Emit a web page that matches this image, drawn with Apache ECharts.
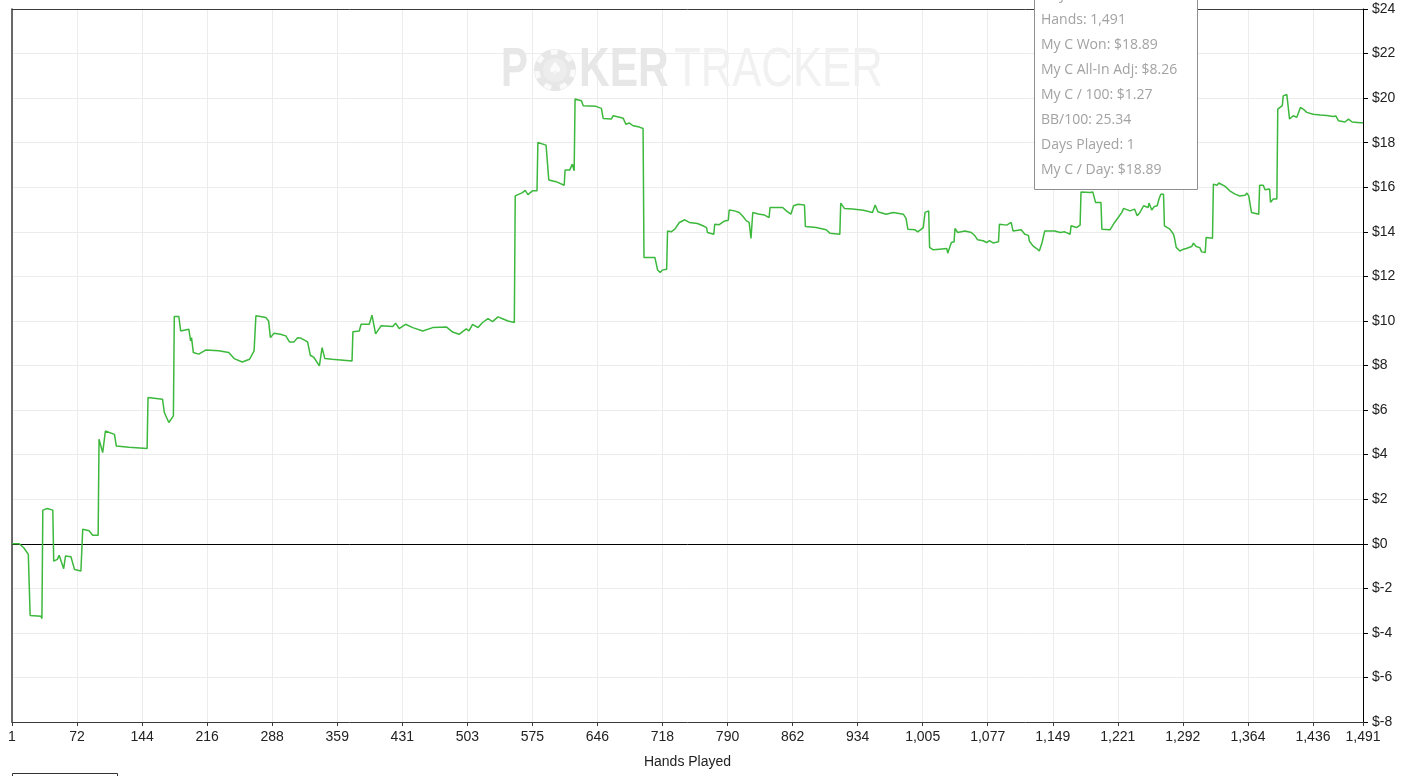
<!DOCTYPE html>
<html><head><meta charset="utf-8">
<script src="https://cdn.jsdelivr.net/npm/echarts@6/dist/echarts.min.js"></script>
<style>html,body{margin:0;padding:0;background:#fff}#c{width:1403px;height:776px}</style>
</head><body><div id="c"></div>
<script>
const hands = [
  1,9,14,19,20,21,33,34,35,40,
  46,47,51,53,58,60,66,70,77,78,
  79,86,90,96,97,101,104,114,116,130,
  150,151,167,169,174,179,180,185,187,196,
  198,199,201,207,215,229,240,246,255,263,
  268,269,270,281,284,286,290,297,303,307,
  312,316,320,327,330,334,340,342,343,346,
  354,376,377,384,386,395,398,399,402,408,
  421,424,428,435,443,454,465,480,487,494,
  502,505,509,515,520,526,531,537,542,548,
  555,556,564,567,570,575,580,581,590,592,
  593,601,610,611,616,619,621,622,629,631,
  645,651,653,662,664,671,675,678,682,686,
  693,697,698,710,713,716,718,723,724,728,
  732,737,743,748,757,763,767,768,775,776,
  781,787,791,792,798,803,807,811,814,816,
  818,824,831,836,837,851,855,860,863,868,
  875,876,888,899,903,914,915,919,928,940,
  950,953,956,965,973,984,987,989,997,1000,
  1006,1007,1008,1012,1013,1017,1024,1032,1033,1037,
  1040,1041,1044,1052,1059,1063,1066,1072,1076,1079,
  1083,1089,1090,1098,1103,1105,1114,1118,1122,1123,
  1127,1131,1134,1137,1139,1140,1151,1157,1162,1168,
  1169,1175,1179,1180,1190,1193,1196,1202,1203,1212,
  1214,1217,1221,1225,1227,1234,1236,1239,1242,1245,
  1249,1254,1255,1258,1261,1264,1266,1268,1271,1272,
  1278,1282,1283,1285,1289,1293,1296,1302,1304,1307,
  1311,1313,1317,1318,1325,1326,1330,1332,1339,1344,
  1350,1355,1361,1363,1365,1367,1368,1376,1377,1381,
  1383,1388,1389,1392,1396,1397,1402,1403,1407,1409,
  1410,1414,1418,1420,1422,1425,1429,1436,1444,1451,
  1458,1461,1464,1471,1475,1479,1488,1491
];
const won = [
  0,0,-0.18,-0.48,-0.5,-3.22,-3.25,-3.36,1.51,1.58,
  1.51,-0.78,-0.70,-0.52,-1.12,-0.55,-0.58,-1.16,-1.22,-1.2,
  0.65,0.58,0.38,0.38,4.69,4.09,5.06,4.91,4.39,4.33,
  4.27,6.56,6.49,5.89,5.44,5.74,10.2,10.2,9.55,9.63,
  9.1,9.25,8.58,8.51,8.70,8.66,8.58,8.31,8.16,8.28,
  8.66,8.58,10.23,10.15,10.0,9.25,9.45,9.4,9.33,9.06,
  9.06,9.25,9.22,9.06,8.46,8.36,7.98,7.91,8.8,8.31,
  8.28,8.2,9.51,9.55,9.85,9.85,10.26,10.3,9.42,9.78,
  9.75,9.9,9.66,9.85,9.70,9.55,9.70,9.73,9.5,9.40,
  9.64,9.55,9.85,9.70,9.93,10.1,9.97,10.18,10.1,10.0,
  9.93,15.61,15.76,15.86,15.67,15.84,15.84,18.01,17.89,17.85,
  16.33,16.25,16.09,16.77,16.77,17.04,16.74,19.96,19.88,19.66,
  19.63,19.54,19.09,19.06,19.21,19.14,19.1,18.83,18.88,18.76,
  18.7,18.64,12.85,12.85,12.29,12.17,12.28,12.32,14.04,14.0,
  14.12,14.42,14.54,14.42,14.37,14.27,14.19,13.97,13.89,14.34,
  14.32,14.49,14.52,14.98,14.94,14.87,14.7,14.49,14.42,13.7,
  14.87,14.8,14.75,14.64,15.09,15.09,14.94,14.79,15.17,15.24,
  15.2,14.24,14.19,14.09,13.94,13.89,15.29,15.05,15.02,14.97,
  14.87,15.2,14.9,14.79,14.87,14.79,14.6,14.12,14.09,14.0,
  14.19,14.2,14.87,14.94,13.3,13.19,13.22,13.25,13.04,13.52,
  13.55,14.15,13.97,14.04,13.97,13.82,13.64,13.6,13.52,13.6,
  13.5,13.55,14.34,14.3,14.42,14.04,14.09,13.89,13.84,13.59,
  13.37,13.25,13.14,13.51,13.55,14.04,14.04,13.97,14.0,13.89,
  14.27,14.19,14.3,15.79,15.76,15.79,15.32,15.32,14.12,14.09,
  14.04,14.42,14.64,14.87,15.05,14.94,14.87,15.02,14.72,14.87,
  15.17,15.09,15.29,14.98,15.14,15.17,15.47,15.69,15.69,14.27,
  14.12,13.89,13.74,13.3,13.14,13.22,13.25,13.34,13.49,13.34,
  13.29,13.1,13.07,13.74,13.71,16.14,16.09,16.19,16.04,15.84,
  15.69,15.61,15.64,15.74,15.61,15.6,14.87,14.79,16.09,16.09,
  15.89,15.92,15.32,15.47,15.47,19.51,19.66,20.1,20.16,20.1,
  19.06,19.21,19.14,19.21,19.58,19.51,19.36,19.28,19.24,19.22,
  19.18,19.2,18.98,18.93,19.06,18.93,18.89,18.89
];
const xTickLabels = ['1','72','144','216','288','359','431','503','575','646','718','790','862','934','1,005','1,077','1,149','1,221','1,292','1,364','1,436','1,491'];
const tooltipLines = ['Day: 1','Hands: 1,491','My C Won: $18.89','My C All-In Adj: $8.26','My C / 100: $1.27','BB/100: 25.34','Days Played: 1','My C / Day: $18.89'];

const FIRST_HAND = 1, LAST_HAND = 1491;
const X_MAX = LAST_HAND - FIRST_HAND;
const X_STEP = 71.74;

const seriesData = hands.map((h, i) => [h - FIRST_HAND, won[i]]);

const chart = echarts.init(document.getElementById('c'), null, {renderer: 'canvas'});

const tipGraphics = [{
  type: 'rect', z: 100,
  shape: {x: 1034.5, y: -2.5, width: 163, height: 192},
  style: {fill: '#ffffff', stroke: '#8e8e8e', lineWidth: 1}
}];
tooltipLines.forEach((t, i) => {
  tipGraphics.push({
    type: 'text', z: 101, x: 1041, y: -5 + i * 25,
    style: {text: t, fill: '#a2a2a2', font: '14px "Open Sans"', textVerticalAlign: 'middle', textAlign: 'left'}
  });
});

const wmColorBold = '#e7e7e7', wmColorLight = '#f1f1f1';
const watermark = [
  {type: 'text', z: 1, x: 501, y: 71, scaleX: 0.72,
    style: {text: 'P', font: 'bold 56px "Liberation Sans"', fill: wmColorBold, textVerticalAlign: 'middle', textAlign: 'left'}},
  {type: 'circle', z: 1, shape: {cx: 555, cy: 70, r: 21}, style: {fill: wmColorBold}},
  {type: 'circle', z: 1, shape: {cx: 555, cy: 70, r: 18}, style: {fill: 'none', stroke: '#fafafa', lineWidth: 5, lineDash: [7, 9]}},
  {type: 'circle', z: 1, shape: {cx: 555, cy: 70, r: 12}, style: {fill: '#ededed'}},
  {type: 'text', z: 1, x: 555, y: 70,
    style: {text: '\u2660', font: '17px "DejaVu Sans"', fill: '#fbfbfb', textVerticalAlign: 'middle', textAlign: 'center'}},
  {type: 'text', z: 1, x: 579, y: 71, scaleX: 0.76,
    style: {text: 'KER', font: 'bold 56px "Liberation Sans"', fill: wmColorBold, textVerticalAlign: 'middle', textAlign: 'left'}},
  {type: 'text', z: 1, x: 674, y: 71, scaleX: 0.78,
    style: {text: 'TRACKER', font: '56px "Liberation Sans"', fill: wmColorLight, textVerticalAlign: 'middle', textAlign: 'left'}}
];

const option = {
  animation: false,
  backgroundColor: '#ffffff',
  grid: {left: 12, top: 9, right: 40, bottom: 54, show: false},
  xAxis: [{
    type: 'value', min: 0, max: X_MAX, interval: X_STEP, position: 'bottom',
    name: 'Hands Played', nameLocation: 'middle', nameGap: 33,
    nameTextStyle: {color: '#222', fontSize: 14, fontFamily: 'Liberation Sans'},
    axisLine: {show: true, onZero: false, lineStyle: {color: '#3a3a3a', width: 1}},
    axisTick: {show: true, length: 4, lineStyle: {color: '#3a3a3a'}},
    axisLabel: {
      color: '#222', fontSize: 14, fontFamily: 'Liberation Sans', margin: 8,
      showMaxLabel: true, showMinLabel: true,
      formatter: v => {
        if (Math.abs(v - X_MAX) < 0.5) return xTickLabels[xTickLabels.length - 1];
        const i = Math.round(v / X_STEP);
        return xTickLabels[i] !== undefined ? xTickLabels[i] : '';
      }
    },
    splitLine: {show: true, lineStyle: {color: '#ececec', width: 1}}
  }, {
    type: 'value', min: 0, max: X_MAX, position: 'top',
    axisLine: {show: true, onZero: false, lineStyle: {color: '#3a3a3a', width: 1}},
    axisTick: {show: false}, axisLabel: {show: false}, splitLine: {show: false}
  }],
  yAxis: [{
    type: 'value', position: 'right', min: -8, max: 24, interval: 2,
    axisLine: {show: true, onZero: false, lineStyle: {color: '#000', width: 1}},
    axisTick: {show: true, length: 5, lineStyle: {color: '#000'}},
    axisLabel: {color: '#222', fontSize: 14, fontFamily: 'Liberation Sans', margin: 9, formatter: v => '$' + v},
    splitLine: {show: true, lineStyle: {color: '#ececec', width: 1}}
  }, {
    type: 'value', position: 'left', min: -8, max: 24,
    axisLine: {show: true, onZero: false, lineStyle: {color: '#3a3a3a', width: 1.5}},
    axisTick: {show: false}, axisLabel: {show: false}, splitLine: {show: false}
  }],
  graphic: [
    ...watermark,
    ...tipGraphics,
    {type: 'rect', z: 50, shape: {x: 12.5, y: 773.5, width: 105, height: 10}, style: {fill: 'none', stroke: '#333', lineWidth: 1}}
  ],
  series: [{
    type: 'line', data: seriesData, showSymbol: false, symbol: 'none', z: 5,
    xAxisIndex: 0, yAxisIndex: 0,
    lineStyle: {color: '#3cb83c', width: 1.5},
    markLine: {
      silent: true, symbol: 'none', label: {show: false},
      lineStyle: {color: '#000', width: 1, type: 'solid'},
      data: [{yAxis: 0}]
    }
  }]
};
chart.setOption(option);
</script>
</body></html>
